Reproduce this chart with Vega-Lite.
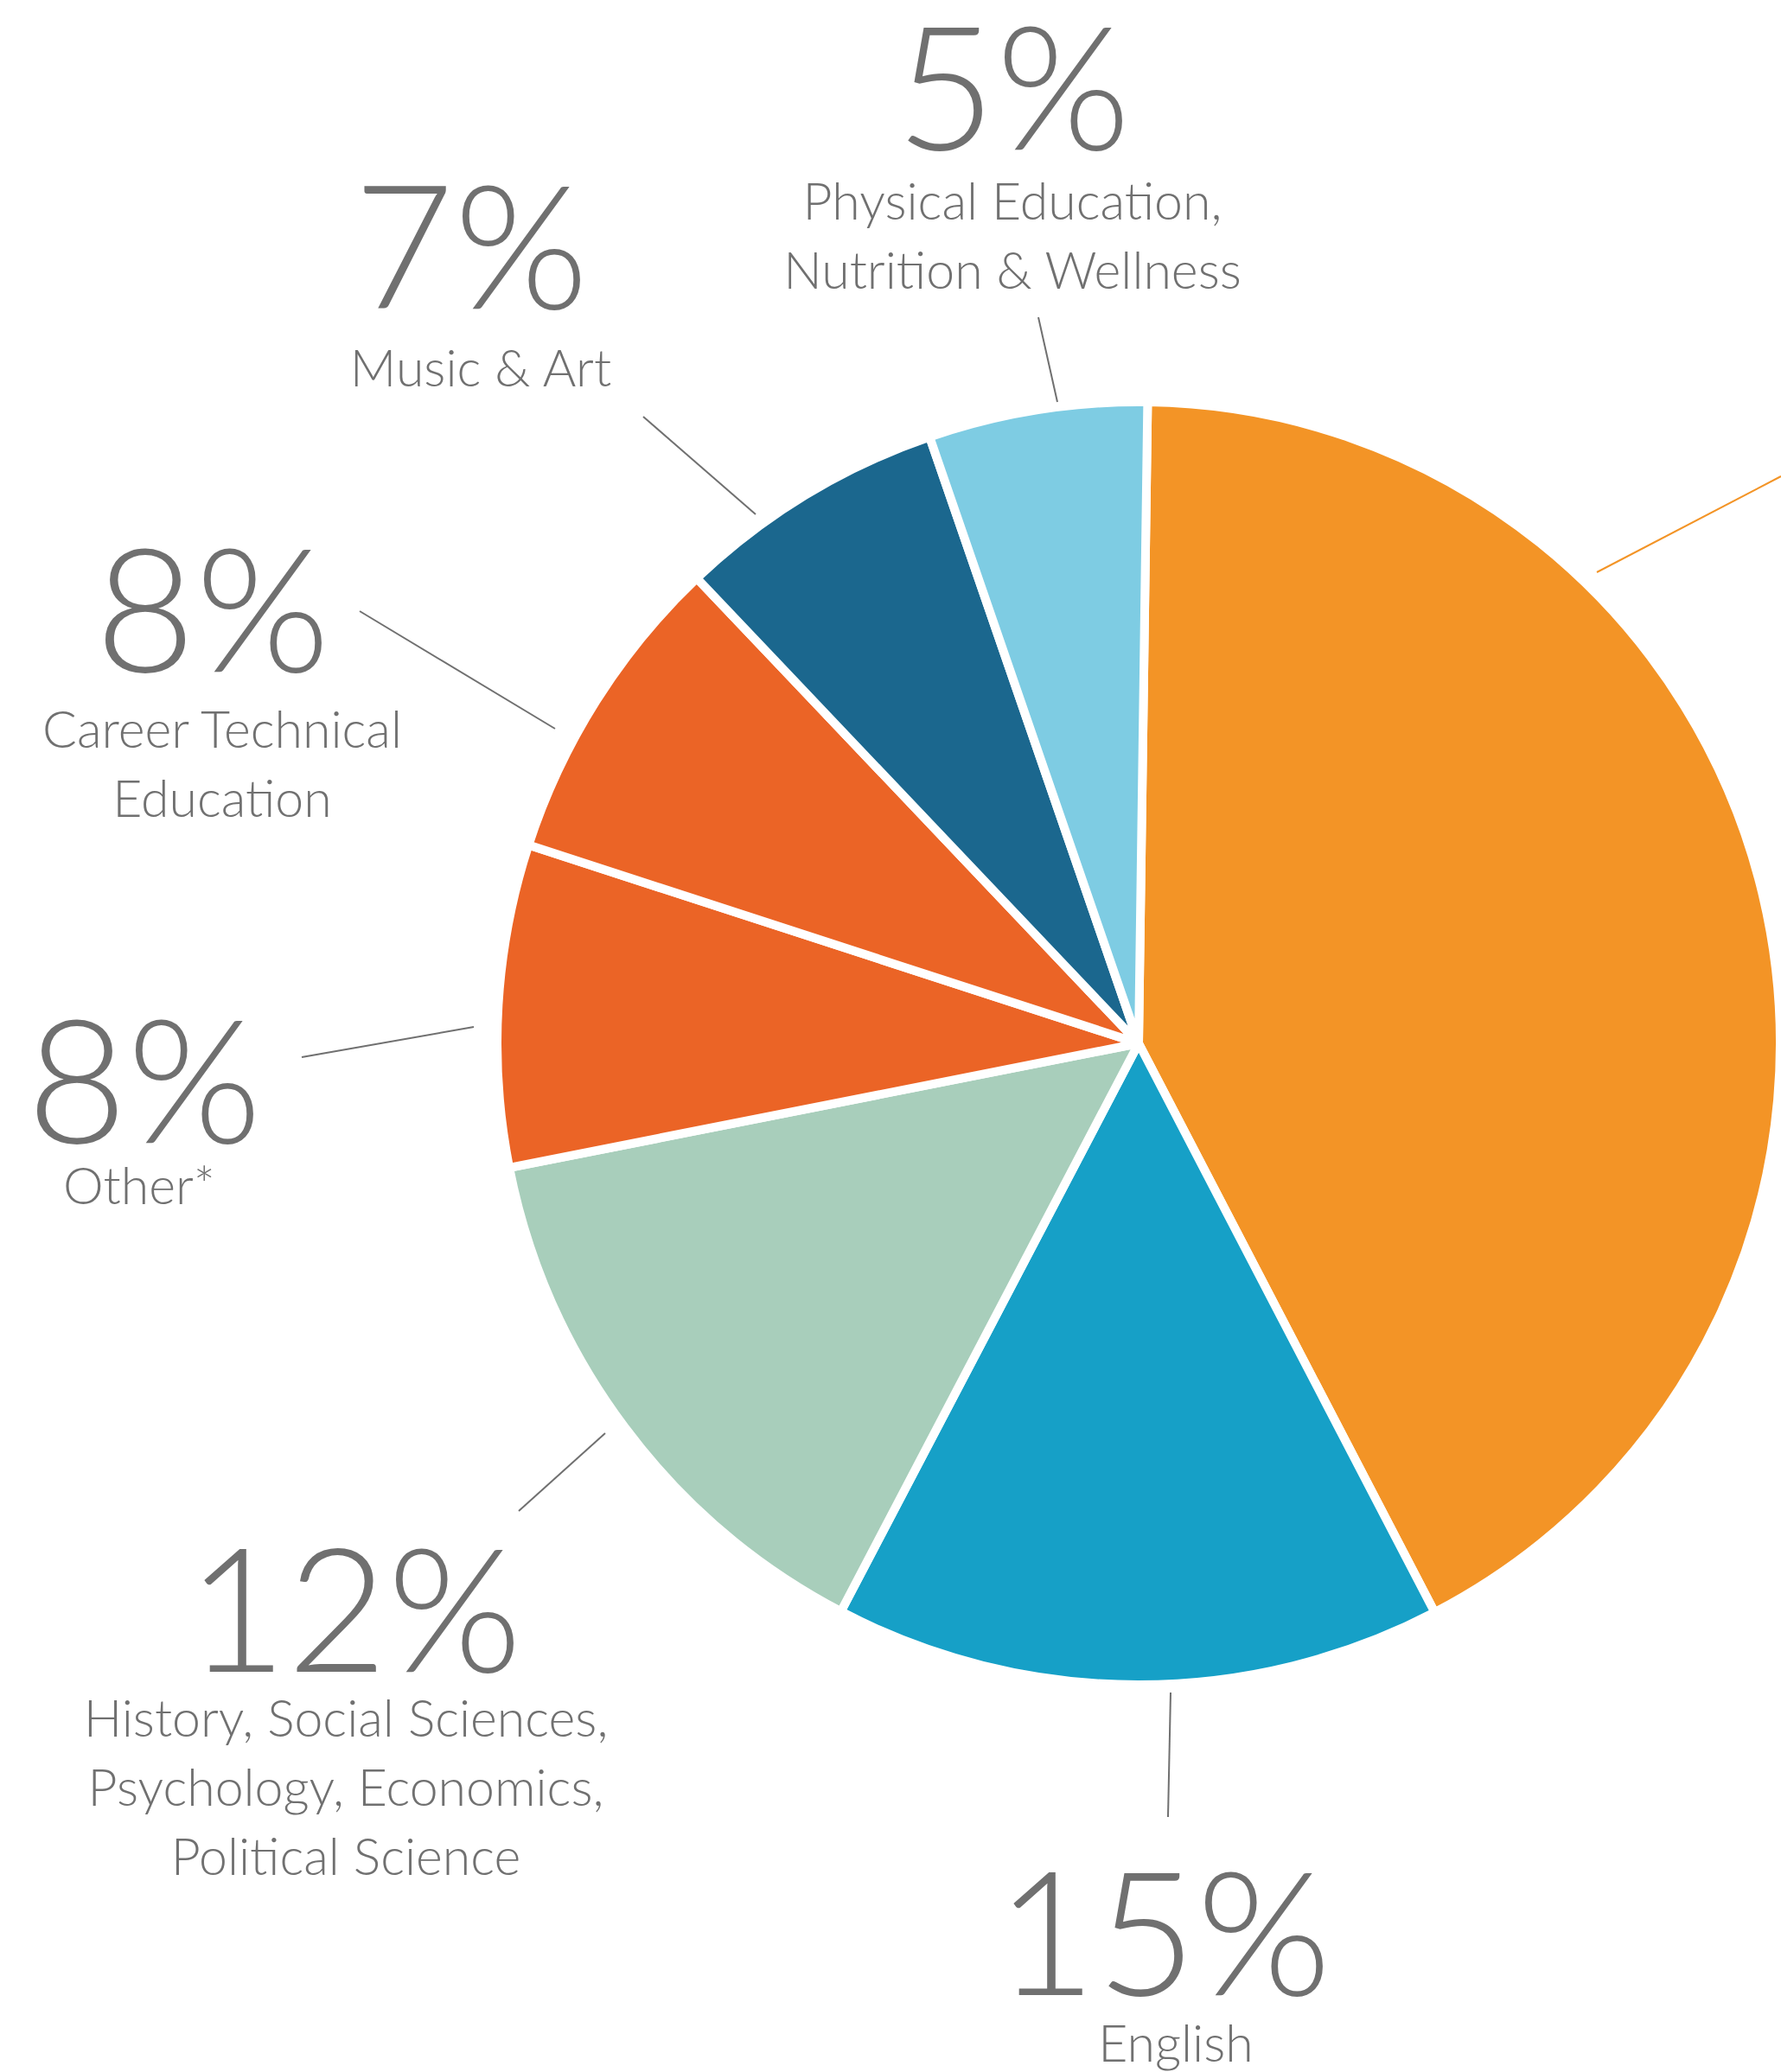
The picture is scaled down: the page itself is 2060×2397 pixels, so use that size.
{
  "$schema": "https://vega.github.io/schema/vega-lite/v6.json",
  "width": 2060,
  "height": 2397,
  "autosize": {"type": "none"},
  "padding": 0,
  "background": "white",
  "config": {"view": {"stroke": null}},
  "datasets": {
    "slices": [
      {"subject": "Math & Science", "share": 42.1},
      {"subject": "English", "share": 15.3},
      {"subject": "History, Social Sciences, Psychology, Economics, Political Science", "share": 14.2},
      {"subject": "Other*", "share": 8.1},
      {"subject": "Career Technical Education", "share": 7.9},
      {"subject": "Music & Art", "share": 6.8},
      {"subject": "Physical Education, Nutrition & Wellness", "share": 5.5}
    ],
    "labels": [
      {"subject": "Physical Education, Nutrition & Wellness", "pct": "5%", "name": "Physical Education,\nNutrition & Wellness", "pctX": -145, "pctY": 1034, "nameX": -146, "nameY": 953, "lx1": -116, "ly1": 840, "lx2": -94, "ly2": 742},
      {"subject": "Music & Art", "pct": "7%", "name": "Music & Art", "pctX": -772, "pctY": 850, "nameX": -761, "nameY": 760, "lx1": -573, "ly1": 725, "lx2": -443, "ly2": 612},
      {"subject": "Career Technical Education", "pct": "8%", "name": "Career Technical\nEducation", "pctX": -1071, "pctY": 430, "nameX": -1060, "nameY": 342, "lx1": -901, "ly1": 500, "lx2": -675, "ly2": 364},
      {"subject": "Other*", "pct": "8%", "name": "Other*", "pctX": -1150, "pctY": -115, "nameX": -1156, "nameY": -186, "lx1": -968, "ly1": -16, "lx2": -769, "ly2": 19},
      {"subject": "History, Social Sciences, Psychology, Economics, Political Science", "pct": "12%", "name": "History, Social Sciences,\nPsychology, Economics,\nPolitical Science", "pctX": -907, "pctY": -727, "nameX": -917, "nameY": -802, "lx1": -617, "ly1": -451, "lx2": -717, "ly2": -541},
      {"subject": "English", "pct": "15%", "name": "English", "pctX": 29, "pctY": -1101, "nameX": 43, "nameY": -1178, "lx1": 37, "ly1": -751, "lx2": 34, "ly2": -895},
      {"subject": "Math & Science", "pct": null, "name": null, "pctX": null, "pctY": null, "nameX": null, "nameY": null, "lx1": 530, "ly1": 545, "lx2": 743, "ly2": 656}
    ]
  },
  "layer": [
    {
      "data": {"name": "slices"},
      "mark": {"type": "arc", "outerRadius": 742, "stroke": "white", "strokeWidth": 10, "strokeJoin": "round"},
      "encoding": {
        "x": {"datum": 0, "type": "quantitative", "scale": {"domain": [-1317, 743], "nice": false, "zero": false}, "axis": null},
        "y": {"datum": 0, "type": "quantitative", "scale": {"domain": [-1190, 1207], "nice": false, "zero": false}, "axis": null},
        "theta": {"field": "share", "type": "quantitative", "stack": true, "scale": {"range": [0.014, 6.2972]}},
        "order": {"field": "share", "sort": "descending"},
        "color": {
          "field": "subject", "type": "nominal", "legend": null,
          "scale": {
            "domain": ["Math & Science", "English", "History, Social Sciences, Psychology, Economics, Political Science", "Other*", "Career Technical Education", "Music & Art", "Physical Education, Nutrition & Wellness"],
            "range": ["#F39426", "#16A0C7", "#A8CEBB", "#EB6426", "#EB6426", "#1B678E", "#7ECCE3"]
          }
        }
      }
    },
    {
      "data": {"name": "labels"},
      "mark": {"type": "rule", "strokeWidth": 2},
      "encoding": {
        "x": {"field": "lx1", "type": "quantitative", "scale": {"domain": [-1317, 743], "nice": false, "zero": false}, "axis": null},
        "y": {"field": "ly1", "type": "quantitative", "scale": {"domain": [-1190, 1207], "nice": false, "zero": false}, "axis": null},
        "x2": {"field": "lx2"},
        "y2": {"field": "ly2"},
        "color": {"condition": {"test": "datum.subject === 'Math & Science'", "value": "#F39426"}, "value": "#707070"}
      }
    },
    {
      "data": {"name": "labels"},
      "transform": [{"filter": "datum.pct != null"}],
      "mark": {"type": "text", "font": "Lato", "fontWeight": 300, "fontSize": 200, "align": "center", "baseline": "alphabetic", "color": "#707070"},
      "encoding": {
        "x": {"field": "pctX", "type": "quantitative", "scale": {"domain": [-1317, 743], "nice": false, "zero": false}, "axis": null},
        "y": {"field": "pctY", "type": "quantitative", "scale": {"domain": [-1190, 1207], "nice": false, "zero": false}, "axis": null},
        "text": {"field": "pct"}
      }
    },
    {
      "data": {"name": "labels"},
      "transform": [{"filter": "datum.name != null"}],
      "mark": {"type": "text", "font": "Lato", "fontWeight": 300, "fontSize": 59, "lineHeight": 80, "lineBreak": "\n", "align": "center", "baseline": "alphabetic", "color": "#707070"},
      "encoding": {
        "x": {"field": "nameX", "type": "quantitative", "scale": {"domain": [-1317, 743], "nice": false, "zero": false}, "axis": null},
        "y": {"field": "nameY", "type": "quantitative", "scale": {"domain": [-1190, 1207], "nice": false, "zero": false}, "axis": null},
        "text": {"field": "name"}
      }
    }
  ]
}
